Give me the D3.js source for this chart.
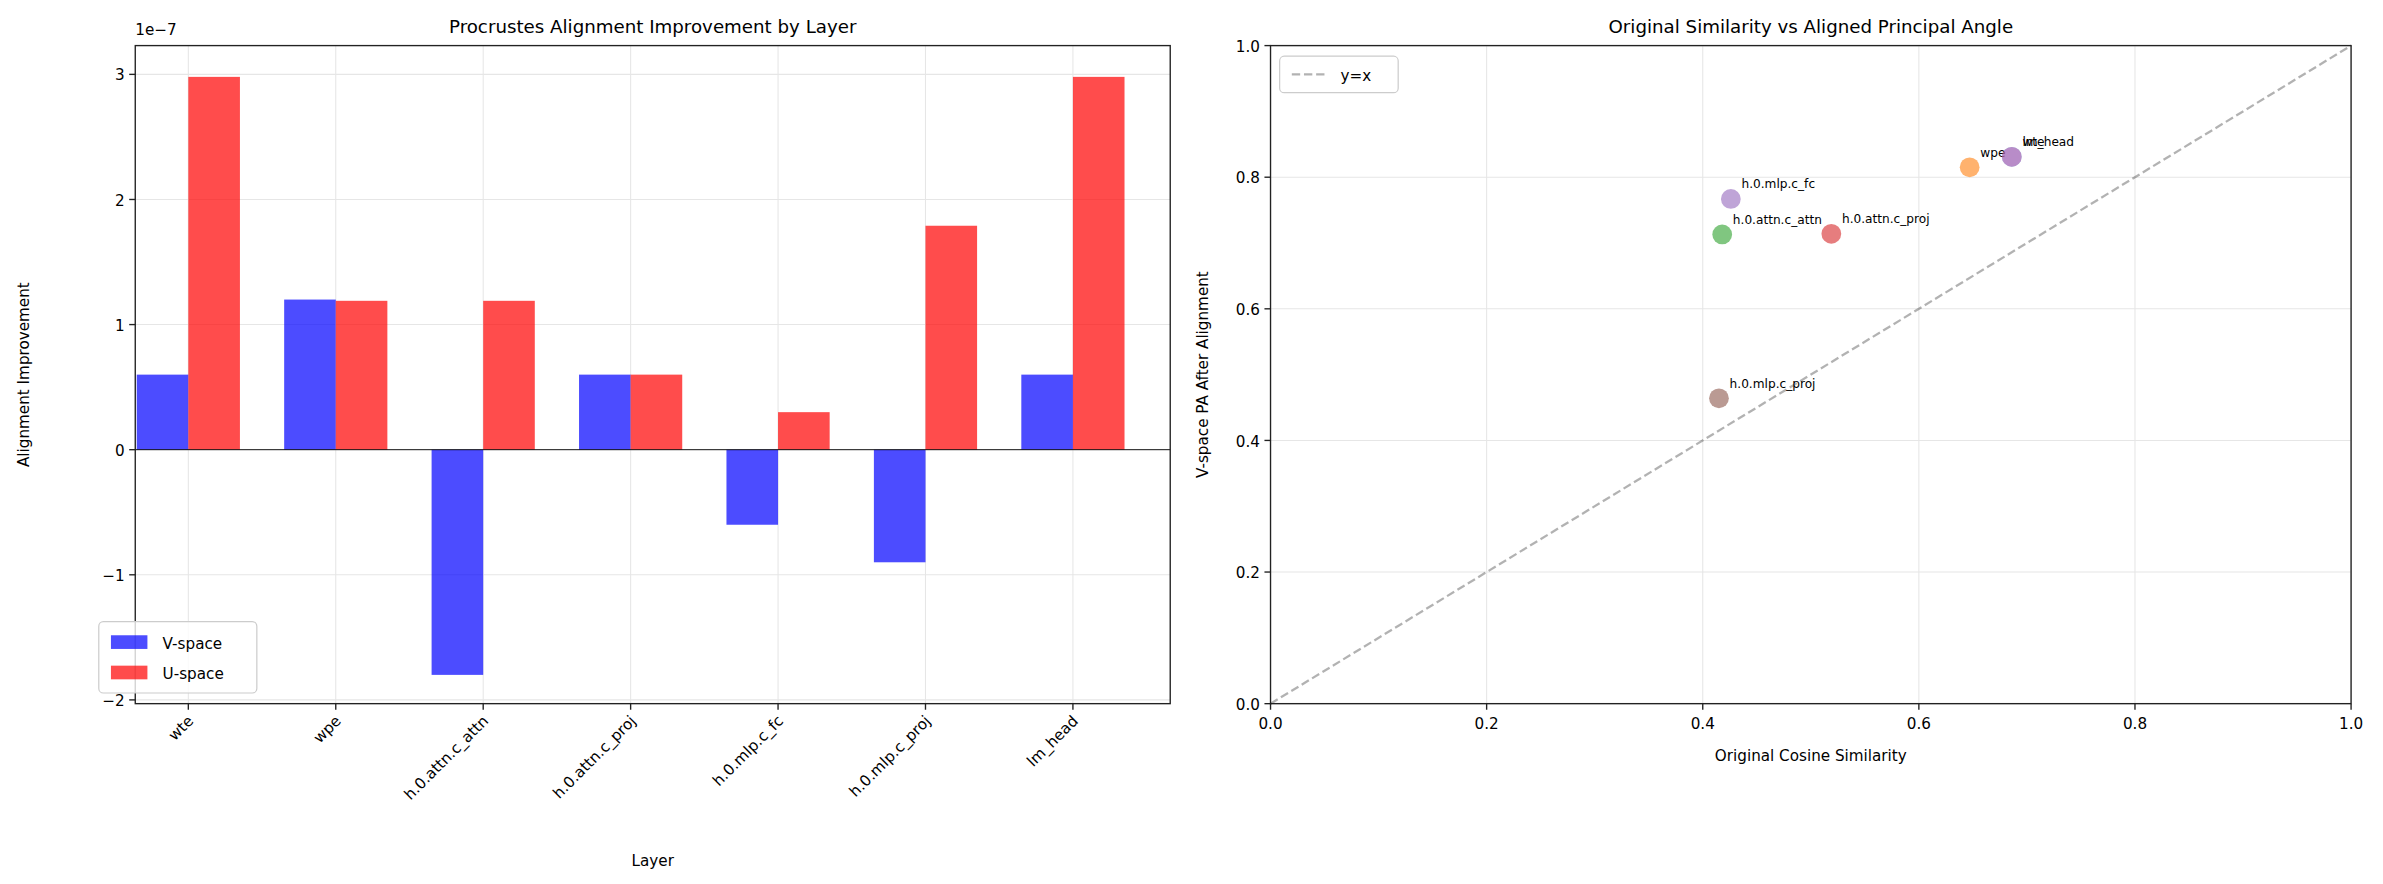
<!DOCTYPE html><html><head><meta charset="utf-8"><script src="https://cdn.jsdelivr.net/npm/d3@7"></script>
<style>body{margin:0;background:#fff}text{font-family:"DejaVu Sans",sans-serif;fill:#000}</style></head><body><svg id="c" width="2383" height="884"></svg><script>
const layers=["wte","wpe","h.0.attn.c_attn","h.0.attn.c_proj","h.0.mlp.c_fc","h.0.mlp.c_proj","lm_head"];
const vSpace=[0.6,1.2,-1.8,0.6,-0.6,-0.9,0.6];
const uSpace=[2.98,1.19,1.19,0.6,0.3,1.79,2.98];
const origSim=[0.686,0.647,0.418,0.519,0.426,0.415,0.686];
const vPA=[0.831,0.815,0.713,0.714,0.767,0.464,0.831];
const colors=["#1f77b4","#ff7f0e","#2ca02c","#d62728","#9467bd","#8c564b","#e377c2"];
const leftTicks=[-2,-1,0,1,2,3];
const rightTicks=[0,0.2,0.4,0.6,0.8,1.0];
const svg=d3.select("#c").append("g").attr("transform","scale("+(2383/1568)+")");
const FS=10;
// left
const L={l:89,r:770,t:30,b:463};
const x=d3.scaleLinear().domain([-0.36,6.66]).range([L.l,L.r]);
const y=d3.scaleLinear().domain([-2.03,3.23]).range([L.b,L.t]);
const g=svg.append("g");
layers.forEach((d,i)=>g.append("line").attr("x1",x(i)).attr("x2",x(i)).attr("y1",L.t).attr("y2",L.b).attr("stroke","#e6e6e6").attr("stroke-width",0.7));
leftTicks.forEach(t=>g.append("line").attr("x1",L.l).attr("x2",L.r).attr("y1",y(t)).attr("y2",y(t)).attr("stroke","#e6e6e6").attr("stroke-width",0.7));
const bw=0.35;
layers.forEach((d,i)=>{
 g.append("rect").attr("x",x(i-bw)).attr("width",x(i)-x(i-bw)).attr("y",y(Math.max(0,vSpace[i]))).attr("height",Math.abs(y(vSpace[i])-y(0))).attr("fill","blue").attr("fill-opacity",0.7);
 g.append("rect").attr("x",x(i)).attr("width",x(i+bw)-x(i)).attr("y",y(Math.max(0,uSpace[i]))).attr("height",Math.abs(y(uSpace[i])-y(0))).attr("fill","red").attr("fill-opacity",0.7);
});
g.append("line").attr("x1",L.l).attr("x2",L.r).attr("y1",y(0)).attr("y2",y(0)).attr("stroke","#000").attr("stroke-width",0.6);
g.append("rect").attr("x",L.l).attr("y",L.t).attr("width",L.r-L.l).attr("height",L.b-L.t).attr("fill","none").attr("stroke","#222").attr("stroke-width",0.9);
leftTicks.forEach(t=>{g.append("line").attr("x1",L.l-4).attr("x2",L.l).attr("y1",y(t)).attr("y2",y(t)).attr("stroke","#222").attr("stroke-width",0.9);
 g.append("text").attr("x",L.l-7).attr("y",y(t)+4).attr("text-anchor","end").attr("font-size",FS).text(t<0?"\u2212"+(-t):t);});
layers.forEach((d,i)=>{g.append("line").attr("x1",x(i)).attr("x2",x(i)).attr("y1",L.b).attr("y2",L.b+4).attr("stroke","#222").attr("stroke-width",0.9);
 g.append("text").attr("transform",`translate(${x(i)+4},${L.b+12}) rotate(-45)`).attr("text-anchor","end").attr("font-size",FS).text(d);});
g.append("text").attr("x",89).attr("y",23).attr("font-size",FS).text("1e\u22127");
g.append("text").attr("x",(L.l+L.r)/2).attr("y",22).attr("text-anchor","middle").attr("font-size",12).text("Procrustes Alignment Improvement by Layer");
g.append("text").attr("x",(L.l+L.r)/2).attr("y",570).attr("text-anchor","middle").attr("font-size",FS).text("Layer");
g.append("text").attr("transform",`translate(19,${(L.t+L.b)/2}) rotate(-90)`).attr("text-anchor","middle").attr("font-size",FS).text("Alignment Improvement");
const lg=g.append("g").attr("transform","translate(65,409)");
lg.append("rect").attr("width",104).attr("height",47).attr("rx",3).attr("fill","#fff").attr("fill-opacity",0.8).attr("stroke","#ccc").attr("stroke-width",0.8);
[["V-space","blue"],["U-space","red"]].forEach((e,k)=>{lg.append("rect").attr("x",8).attr("y",9+k*20).attr("width",24).attr("height",9).attr("fill",e[1]).attr("fill-opacity",0.7);
 lg.append("text").attr("x",42).attr("y",18+k*20).attr("font-size",FS).text(e[0]);});
// right
const R={l:836,r:1547,t:30,b:463};
const x2=d3.scaleLinear().domain([0,1]).range([R.l,R.r]);
const y2=d3.scaleLinear().domain([0,1]).range([R.b,R.t]);
const h=svg.append("g");
rightTicks.forEach(t=>{h.append("line").attr("x1",x2(t)).attr("x2",x2(t)).attr("y1",R.t).attr("y2",R.b).attr("stroke","#e6e6e6").attr("stroke-width",0.7);
 h.append("line").attr("x1",R.l).attr("x2",R.r).attr("y1",y2(t)).attr("y2",y2(t)).attr("stroke","#e6e6e6").attr("stroke-width",0.7);});
h.append("line").attr("x1",x2(0)).attr("y1",y2(0)).attr("x2",x2(1)).attr("y2",y2(1)).attr("stroke","#000").attr("stroke-opacity",0.3).attr("stroke-width",1.5).attr("stroke-dasharray","5.5,2.5");
layers.forEach((d,i)=>{h.append("circle").attr("cx",x2(origSim[i])).attr("cy",y2(vPA[i])).attr("r",6.5).attr("fill",colors[i]).attr("fill-opacity",0.6);
 h.append("text").attr("x",x2(origSim[i])+7).attr("y",y2(vPA[i])-7).attr("font-size",8).text(d);});
h.append("rect").attr("x",R.l).attr("y",R.t).attr("width",R.r-R.l).attr("height",R.b-R.t).attr("fill","none").attr("stroke","#222").attr("stroke-width",0.9);
rightTicks.forEach(t=>{h.append("line").attr("x1",R.l-4).attr("x2",R.l).attr("y1",y2(t)).attr("y2",y2(t)).attr("stroke","#222").attr("stroke-width",0.9);
 h.append("text").attr("x",R.l-7).attr("y",y2(t)+4).attr("text-anchor","end").attr("font-size",FS).text(t.toFixed(1));
 h.append("line").attr("x1",x2(t)).attr("x2",x2(t)).attr("y1",R.b).attr("y2",R.b+4).attr("stroke","#222").attr("stroke-width",0.9);
 h.append("text").attr("x",x2(t)).attr("y",R.b+17).attr("text-anchor","middle").attr("font-size",FS).text(t.toFixed(1));});
h.append("text").attr("x",(R.l+R.r)/2).attr("y",22).attr("text-anchor","middle").attr("font-size",12).text("Original Similarity vs Aligned Principal Angle");
h.append("text").attr("x",(R.l+R.r)/2).attr("y",501).attr("text-anchor","middle").attr("font-size",FS).text("Original Cosine Similarity");
h.append("text").attr("transform",`translate(795,${(R.t+R.b)/2}) rotate(-90)`).attr("text-anchor","middle").attr("font-size",FS).text("V-space PA After Alignment");
const lg2=h.append("g").attr("transform","translate(842,37)");
lg2.append("rect").attr("width",78).attr("height",24).attr("rx",3).attr("fill","#fff").attr("stroke","#ccc").attr("stroke-width",0.8);
lg2.append("line").attr("x1",8).attr("x2",32).attr("y1",12).attr("y2",12).attr("stroke","#000").attr("stroke-opacity",0.3).attr("stroke-width",1.5).attr("stroke-dasharray","5.5,2.5");
lg2.append("text").attr("x",40).attr("y",16).attr("font-size",FS).text("y=x");
</script></body></html>
